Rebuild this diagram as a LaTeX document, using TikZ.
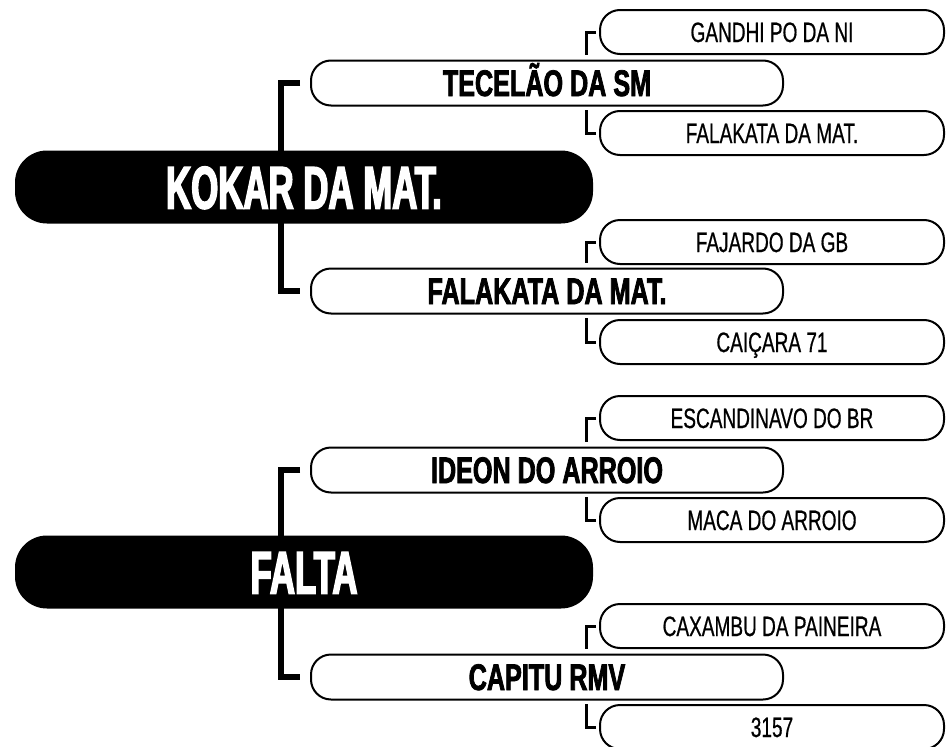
\documentclass[tikz,border=0pt]{standalone}
\usepackage{fontspec}
\newfontfamily\condfont{Liberation Sans}[FakeStretch=0.68, FakeBold=0.6, BoldFeatures={FakeBold=2}]
\newfontfamily\rootfont{Liberation Sans}[FakeStretch=0.58, BoldFeatures={FakeBold=2.5}]
\usetikzlibrary{positioning, backgrounds}
\tikzstyle{rootbox} = [rectangle, rounded corners=32pt, minimum width=578pt, minimum height=73pt, inner sep=0pt, fill=black, text=white, text height=43pt, text depth=0pt, font=\rootfont\bfseries\fontsize{60}{60}\selectfont]
\tikzstyle{childbox} = [rectangle, rounded corners=20pt, minimum width=472pt, minimum height=45pt, inner sep=0pt, draw=black, line width=2pt, fill=white, text height=26pt, text depth=0pt, font=\condfont\bfseries\fontsize{37}{37}\selectfont]
\tikzstyle{leafbox} = [rectangle, rounded corners=20pt, minimum width=344pt, minimum height=44pt, inner sep=0pt, draw=black, line width=2pt, fill=white, text height=20pt, text depth=0pt, font=\condfont\fontsize{28}{28}\selectfont]
\tikzstyle{bigline} = [line width=6pt]
\tikzstyle{smallline} = [line width=3pt]

\begin{document}
\begin{tikzpicture}[x=1pt,y=-1pt]
\useasboundingbox (0,0) rectangle (946,747);

% first group
\node (kokar) [rootbox] at (304,187) {KOKAR DA MAT.};
\node (tecelao) [childbox] at (547,83) {TECELÃO DA SM};
\node (falakataB) [childbox] at (547,291) {FALAKATA DA MAT.};
\node (gandhi) [leafbox] at (772,32) {GANDHI PO DA NI};
\node (falakataA) [leafbox] at (772,133) {FALAKATA DA MAT.};
\node (fajardo) [leafbox] at (772,242) {FAJARDO DA GB};
\node (caicara) [leafbox] at (772,342) {CAIÇARA 71};

% second group
\node (falta) [rootbox] at (304,572) {FALTA};
\node (ideon) [childbox] at (547,470) {IDEON DO ARROIO};
\node (capitu) [childbox] at (547,677) {CAPITU RMV};
\node (escandinavo) [leafbox] at (772,418) {ESCANDINAVO DO BR};
\node (maca) [leafbox] at (772,520) {MACA DO ARROIO};
\node (caxambu) [leafbox] at (772,626) {CAXAMBU DA PAINEIRA};
\node (n3157) [leafbox] at (772,727) {3157};

\begin{scope}[on background layer]
\draw [bigline] ([xshift=-10pt]tecelao.west) -- ++(-19,0) |- ([xshift=-10pt]falakataB.west);
\draw [smallline] ([xshift=-3pt]gandhi.west) -- ++(-10,0) -- ([xshift=-13pt,yshift=5pt]gandhi.west |- tecelao.north);
\draw [smallline] ([xshift=-3pt]falakataA.west) -- ++(-10,0) -- ([xshift=-13pt,yshift=-3pt]falakataA.west |- tecelao.south);
\draw [smallline] ([xshift=-3pt]fajardo.west) -- ++(-10,0) -- ([xshift=-13pt,yshift=5pt]fajardo.west |- falakataB.north);
\draw [smallline] ([xshift=-3pt]caicara.west) -- ++(-10,0) -- ([xshift=-13pt,yshift=-3pt]caicara.west |- falakataB.south);

\draw [bigline] ([xshift=-10pt]ideon.west) -- ++(-19,0) |- ([xshift=-10pt]capitu.west);
\draw [smallline] ([xshift=-3pt]escandinavo.west) -- ++(-10,0) -- ([xshift=-13pt,yshift=5pt]escandinavo.west |- ideon.north);
\draw [smallline] ([xshift=-3pt]maca.west) -- ++(-10,0) -- ([xshift=-13pt,yshift=-3pt]maca.west |- ideon.south);
\draw [smallline] ([xshift=-3pt]caxambu.west) -- ++(-10,0) -- ([xshift=-13pt,yshift=5pt]caxambu.west |- capitu.north);
\draw [smallline] ([xshift=-3pt]n3157.west) -- ++(-10,0) -- ([xshift=-13pt,yshift=-3pt]n3157.west |- capitu.south);
\end{scope}

\end{tikzpicture}
\end{document}
